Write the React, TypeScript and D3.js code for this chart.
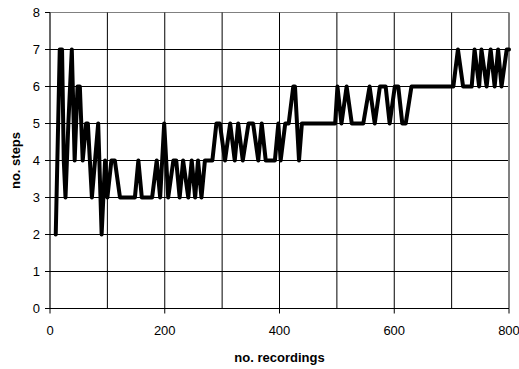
import React from 'react';
import * as d3 from 'd3';

// recording index and number of steps
const recordings = [
  10, 17, 21, 24, 27, 32, 38, 43, 48, 52, 57, 63, 66, 73, 84, 90, 96, 100, 107, 113,
  122, 148, 154, 160, 178, 186, 192, 199, 206, 215, 220, 226, 232, 241, 247, 253, 258, 264, 270, 283,
  290, 296, 305, 314, 322, 328, 336, 346, 354, 363, 369, 376, 392, 398, 402, 410, 416, 424, 427, 434,
  439, 497, 501, 508, 517, 526, 546, 557, 566, 575, 585, 592, 601, 607, 614, 620, 630, 703, 711, 720,
  735, 740, 748, 752, 761, 768, 775, 781, 787, 796, 800,
];
const steps = [
  2, 7, 7, 4, 3, 5, 7, 4, 6, 6, 4, 5, 5, 3, 5, 2, 4, 3, 4, 4,
  3, 3, 4, 3, 3, 4, 3, 5, 3, 4, 4, 3, 4, 3, 4, 3, 4, 3, 4, 4,
  5, 5, 4, 5, 4, 5, 4, 5, 5, 4, 5, 4, 4, 5, 4, 5, 5, 6, 6, 4,
  5, 5, 6, 5, 6, 5, 5, 6, 5, 6, 6, 5, 6, 6, 5, 5, 6, 6, 7, 6,
  6, 7, 6, 7, 6, 7, 6, 7, 6, 7, 7,
];
const xTicks = [0, 200, 400, 600, 800];
const xGrid = [100, 200, 300, 400, 500, 600, 700];
const yTicks = [0, 1, 2, 3, 4, 5, 6, 7, 8];

const W = 519;
const H = 369;

export default function App() {
  const x = d3.scaleLinear().domain([0, 800]).range([50, 509]);
  const y = d3.scaleLinear().domain([0, 8]).range([308.5, 12.5]);

  const data = recordings.map((r, i) => ({ r, s: steps[i] }));
  const line = d3.line<{ r: number; s: number }>()
    .x(d => x(d.r))
    .y(d => y(d.s));

  const font = 'Arial, "Liberation Sans", sans-serif';

  return (
    <svg width={W} height={H} style={{ position: 'absolute', left: 0, top: 0, background: '#fff' }}
      fontFamily={font}>
      {/* grid */}
      {yTicks.slice(1, -1).map(t => (
        <line key={'gy' + t} x1={x(0)} x2={x(800)} y1={y(t)} y2={y(t)} stroke="#000" strokeWidth={1} />
      ))}
      <line x1={x(0)} x2={x(800)} y1={y(8)} y2={y(8)} stroke="#808080" strokeWidth={1} />
      {xGrid.map(t => (
        <line key={'gx' + t} x1={x(t)} x2={x(t)} y1={y(0)} y2={y(8)} stroke="#000" strokeWidth={1} />
      ))}
      <line x1={x(800)} x2={x(800)} y1={y(0)} y2={y(8)} stroke="#808080" strokeWidth={2} />

      {/* axes */}
      <line x1={x(0)} x2={x(0)} y1={y(0)} y2={y(8)} stroke="#000" strokeWidth={1.2} />
      <line x1={x(0)} x2={x(800)} y1={y(0)} y2={y(0)} stroke="#000" strokeWidth={1.2} />
      {yTicks.map(t => (
        <g key={'yt' + t}>
          <line x1={x(0) - 5} x2={x(0)} y1={y(t)} y2={y(t)} stroke="#000" />
          <text x={40} y={y(t)} dy="0.36em" textAnchor="end" fontSize={13}>{t}</text>
        </g>
      ))}
      {xTicks.map(t => (
        <g key={'xt' + t}>
          <line x1={x(t)} x2={x(t)} y1={y(0)} y2={y(0) + 5} stroke="#000" />
          <text x={x(t)} y={335} textAnchor="middle" fontSize={13}>{t}</text>
        </g>
      ))}

      {/* series */}
      <path d={line(data) || ''} fill="none" stroke="#000" strokeWidth={4}
        strokeLinejoin="round" strokeLinecap="round" />

      {/* titles */}
      <text x={(x(0) + x(800)) / 2} y={362} textAnchor="middle" fontSize={13} fontWeight="bold">
        no. recordings
      </text>
      <text transform={`translate(20,${(y(0) + y(8)) / 2}) rotate(-90)`} textAnchor="middle"
        fontSize={13} fontWeight="bold">
        no. steps
      </text>
    </svg>
  );
}
